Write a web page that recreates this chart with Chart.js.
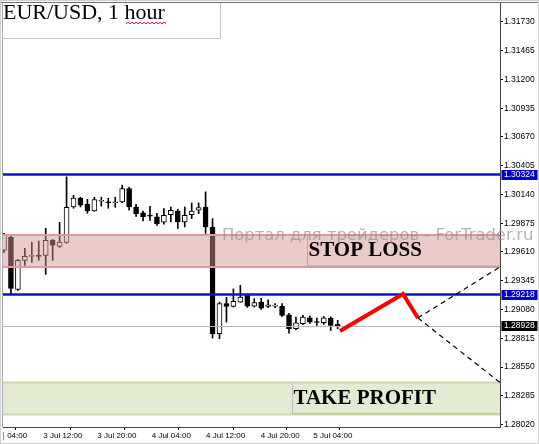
<!DOCTYPE html>
<html>
<head>
<meta charset="utf-8">
<script src="https://cdn.jsdelivr.net/npm/chart.js@4.4.1/dist/chart.umd.min.js"></script>
<style>
  html, body { margin: 0; padding: 0; background: #fff; }
  #wrap { width: 539px; height: 444px; }
</style>
</head>
<body>
<div id="wrap"><canvas id="chart" width="539" height="444"></canvas></div>
<script>
// EUR/USD, H1 candles from 3 Jul 02:00 to 5 Jul 02:00 (one per hour)
const opens = [
  1.29626, 1.29746, 1.29266, 1.29533, 1.29570, 1.29575, 1.29579, 1.29718, 1.29662, 1.29699,
  1.30025, 1.30108, 1.30050, 1.29988, 1.30078, 1.30067, 1.30064, 1.30071, 1.30195, 1.30025,
  1.29970, 1.29945, 1.29933, 1.29884, 1.29955, 1.29988, 1.29887, 1.29955, 1.29995, 1.30025,
  1.29838, 1.28857, 1.29134, 1.29109, 1.29148, 1.29210, 1.29111, 1.29148, 1.29109, 1.29111,
  1.29109, 1.29032, 1.28903, 1.28949, 1.29004, 1.28964, 1.28958, 1.29001, 1.28943
];
const highs = [
  1.29782, 1.29755, 1.29542, 1.29644, 1.29699, 1.29711, 1.29829, 1.29727, 1.29884, 1.30302,
  1.30133, 1.30115, 1.30096, 1.30115, 1.30115, 1.30106, 1.30115, 1.30226, 1.30207, 1.30050,
  1.29986, 1.30032, 1.29967, 1.30010, 1.30025, 1.30004, 1.30025, 1.30062, 1.30062, 1.30164,
  1.29918, 1.29148, 1.29192, 1.29270, 1.29303, 1.29219, 1.29180, 1.29183, 1.29170, 1.29134,
  1.29134, 1.29044, 1.29010, 1.29026, 1.29021, 1.29001, 1.29016, 1.29012, 1.28980
];
const lows = [
  1.29607, 1.29215, 1.29257, 1.29487, 1.29515, 1.29533, 1.29404, 1.29533, 1.29653, 1.29690,
  1.30013, 1.30025, 1.29967, 1.29985, 1.30032, 1.30013, 1.30022, 1.30064, 1.29995, 1.29939,
  1.29896, 1.29902, 1.29856, 1.29866, 1.29887, 1.29826, 1.29841, 1.29918, 1.29964, 1.29780,
  1.28816, 1.28811, 1.28964, 1.29102, 1.29146, 1.29099, 1.29102, 1.29081, 1.29097, 1.29097,
  1.29016, 1.28862, 1.28894, 1.28940, 1.28952, 1.28933, 1.28943, 1.28887, 1.28903
];
const closes = [
  1.29764, 1.29275, 1.29533, 1.29570, 1.29575, 1.29570, 1.29718, 1.29672, 1.29702, 1.30022,
  1.30108, 1.30041, 1.29988, 1.30094, 1.30087, 1.30064, 1.30070, 1.30195, 1.30025, 1.29964,
  1.29933, 1.29940, 1.29872, 1.29949, 1.29995, 1.29887, 1.29949, 1.29988, 1.30020, 1.29841,
  1.28857, 1.29134, 1.29109, 1.29155, 1.29194, 1.29111, 1.29143, 1.29093, 1.29124, 1.29113,
  1.29026, 1.28903, 1.28958, 1.29010, 1.28964, 1.28960, 1.29004, 1.28933, 1.28928
];

const yTicks = [
  1.28020, 1.28285, 1.28550, 1.28815, 1.29080, 1.29345, 1.29610, 1.29875,
  1.30140, 1.30405, 1.30670, 1.30935, 1.31200, 1.31465, 1.31730
];
const xTickPos = [-2.3, 5.65, 13.42, 21.25, 29.06, 36.92, 44.49];
const xTickLabels = ['3 Jul 04:00', '3 Jul 12:00', '3 Jul 20:00', '4 Jul 04:00', '4 Jul 12:00', '4 Jul 20:00', '5 Jul 04:00'];

// levels drawn on the chart
const levelLines = [1.30324, 1.29218];
const lastPrice = 1.28928;
const stopLoss = [1.29472, 1.29767];
const takeProfit = [1.28112, 1.28407];
const stopLabelX = 43.58;
const profitLabelX = 41.5;
// red forecast path and the dashed fan after it
const pathX = [48.33, 57.39, 59.55];
const pathY = [1.28882, 1.29223, 1.29002];
const fanEndX = 71.35;
const fanEndY = [1.29472, 1.28407];

const bodyColors = opens.map((o, i) => closes[i] >= o ? '#ffffff' : '#000000');

function seg(ctx, x1, y1, x2, y2) {
  ctx.beginPath();
  ctx.moveTo(x1, y1);
  ctx.lineTo(x2, y2);
  ctx.stroke();
}

function priceTag(ctx, y, value, bg) {
  ctx.fillStyle = bg;
  ctx.fillRect(501.5, Math.round(y) - 5, 36, 10);
  ctx.fillStyle = '#fff';
  ctx.font = '8.5px "Liberation Sans"';
  ctx.textBaseline = 'middle';
  ctx.textAlign = 'left';
  ctx.fillText(value.toFixed(5), 504, Math.round(y));
}

const overlay = {
  id: 'overlay',
  afterDatasetsDraw(chart) {
    const { ctx, chartArea: a, scales: { x, y } } = chart;
    const w = a.right - a.left;
    ctx.save();
    ctx.beginPath();
    ctx.rect(a.left, a.top, w, a.bottom - a.top);
    ctx.clip();

    // stop loss zone
    const slT = y.getPixelForValue(stopLoss[1]);
    const slB = y.getPixelForValue(stopLoss[0]);
    ctx.fillStyle = 'rgba(216,144,144,0.48)';
    ctx.fillRect(a.left, slT, w, slB - slT);
    ctx.strokeStyle = '#dc9a9a';
    ctx.lineWidth = 2;
    seg(ctx, a.left, slT, a.right, slT);
    seg(ctx, a.left, slB, a.right, slB);
    const slX = Math.round(x.getPixelForValue(stopLabelX)) + 0.5;
    ctx.strokeStyle = '#b9a8a8';
    ctx.lineWidth = 1;
    seg(ctx, slX, slT + 1, slX, slB - 1);
    seg(ctx, slX, slB - 1, a.right, slB - 1);
    ctx.fillStyle = '#000';
    ctx.font = 'bold 21px "Liberation Serif"';
    ctx.textBaseline = 'alphabetic';
    ctx.textAlign = 'left';
    ctx.fillText('STOP LOSS', slX + 1, slT + 21);

    // take profit zone
    const tpT = y.getPixelForValue(takeProfit[1]);
    const tpB = y.getPixelForValue(takeProfit[0]);
    ctx.fillStyle = '#e3ecd3';
    ctx.fillRect(a.left, tpT, w, tpB - tpT);
    ctx.strokeStyle = '#c6dba9';
    ctx.lineWidth = 2;
    seg(ctx, a.left, tpT, a.right, tpT);
    seg(ctx, a.left, tpB, a.right, tpB);
    const tpX = Math.round(x.getPixelForValue(profitLabelX)) + 0.5;
    ctx.strokeStyle = '#bcbcbc';
    ctx.lineWidth = 1;
    seg(ctx, tpX, tpT + 1, tpX, tpB - 1);
    seg(ctx, tpX, tpB - 1, a.right, tpB - 1);
    ctx.fillStyle = '#000';
    ctx.font = 'bold 21px "Liberation Serif"';
    ctx.fillText('TAKE PROFIT', tpX + 1, tpT + 21);

    // last price line
    const lp = Math.round(y.getPixelForValue(lastPrice)) + 0.5;
    ctx.strokeStyle = '#b8b8b8';
    ctx.lineWidth = 1;
    seg(ctx, a.left, lp, a.right, lp);

    // blue levels
    ctx.strokeStyle = '#0a14c8';
    ctx.lineWidth = 2.5;
    levelLines.forEach(v => {
      const py = y.getPixelForValue(v);
      seg(ctx, a.left, py, a.right, py);
    });

    // red path
    ctx.strokeStyle = '#ff0000';
    ctx.lineWidth = 4;
    ctx.lineJoin = 'miter';
    ctx.beginPath();
    pathX.forEach((v, i) => {
      const px = x.getPixelForValue(v), py = y.getPixelForValue(pathY[i]);
      if (i === 0) ctx.moveTo(px, py); else ctx.lineTo(px, py);
    });
    ctx.stroke();

    // dashed fan
    const sx = x.getPixelForValue(pathX[pathX.length - 1]);
    const sy = y.getPixelForValue(pathY[pathY.length - 1]);
    ctx.strokeStyle = '#000';
    ctx.lineWidth = 1.2;
    ctx.setLineDash([5, 4]);
    fanEndY.forEach(v => seg(ctx, sx, sy, x.getPixelForValue(fanEndX), y.getPixelForValue(v)));
    ctx.setLineDash([]);
    ctx.restore();
  },
  afterDraw(chart) {
    const { ctx, chartArea: a, scales: { y } } = chart;
    ctx.save();

    // hide the cut part of the first time label
    ctx.fillStyle = '#fff';
    ctx.fillRect(0, a.bottom + 2, 7, 17);
    ctx.strokeStyle = '#888';
    ctx.lineWidth = 1;
    seg(ctx, 3.5, 432, 3.5, 440);

    // frame
    ctx.strokeStyle = '#6e6e6e';
    seg(ctx, 0, 2.5, 539, 2.5);
    ctx.strokeStyle = '#a8a8a8';
    seg(ctx, 2.5, 2.5, 2.5, a.bottom);
    ctx.strokeStyle = '#cfcfcf';
    ctx.strokeRect(0.5, 0.5, 538, 443);

    // watermark
    ctx.fillStyle = 'rgba(140,140,140,0.65)';
    ctx.font = '16.4px "DejaVu Sans"';
    ctx.textBaseline = 'alphabetic';
    ctx.textAlign = 'left';
    ctx.fillText('Портал для трейдеров - ForTrader.ru', 222, 240);

    // price tags on the axis
    levelLines.forEach(v => priceTag(ctx, y.getPixelForValue(v), v, '#0000c8'));
    priceTag(ctx, y.getPixelForValue(lastPrice), lastPrice, '#000');

    // title box
    ctx.fillStyle = '#fff';
    ctx.fillRect(3, 3, 217, 35);
    ctx.strokeStyle = '#c4c4c4';
    ctx.lineWidth = 1;
    seg(ctx, 220.5, 3, 220.5, 38.5);
    seg(ctx, 3, 38.5, 220.5, 38.5);
    ctx.fillStyle = '#000';
    ctx.font = '22px "Liberation Serif"';
    ctx.textBaseline = 'alphabetic';
    ctx.fillText('EUR/USD, 1 hour', 3, 19);
    ctx.strokeStyle = '#e02828';
    ctx.beginPath();
    for (let px = 126; px <= 166; px += 2) {
      const py = 23 + (((px - 126) / 2) % 2 ? -1 : 1);
      if (px === 126) ctx.moveTo(px, py); else ctx.lineTo(px, py);
    }
    ctx.stroke();
    ctx.restore();
  }
};

new Chart(document.getElementById('chart'), {
  type: 'bar',
  data: {
    datasets: [
      {
        label: 'body',
        data: opens.map((o, i) => ({ x: i, y: [o, closes[i]] })),
        backgroundColor: bodyColors,
        borderColor: '#000',
        borderWidth: 1,
        borderSkipped: false,
        barThickness: 5,
        minBarLength: 1,
        grouped: false
      },
      {
        label: 'wick',
        data: lows.map((l, i) => ({ x: i, y: [l, highs[i]] })),
        backgroundColor: '#000',
        barThickness: 1,
        grouped: false
      }
    ]
  },
  options: {
    responsive: false,
    animation: false,
    devicePixelRatio: 1,
    layout: { padding: { left: 3, top: 3, right: 0, bottom: 0 } },
    plugins: { legend: { display: false }, tooltip: { enabled: false } },
    scales: {
      x: {
        type: 'linear',
        min: -0.144,
        max: 71.35,
        offset: false,
        grid: { drawOnChartArea: false, tickLength: 3, color: '#000' },
        border: { color: '#444' },
        ticks: {
          font: { family: 'Liberation Sans', size: 8 },
          color: '#000',
          padding: 1,
          align: 'start',
          autoSkip: false,
          maxRotation: 0,
          callback: (v, i) => xTickLabels[i]
        },
        afterBuildTicks: s => { s.ticks = xTickPos.map(v => ({ value: v })); },
        afterFit: s => { s.height = 17; s.paddingLeft = 0; s.paddingRight = 0; }
      },
      y: {
        position: 'right',
        min: 1.27997,
        max: 1.31905,
        grid: { drawOnChartArea: false, tickLength: 3, color: '#000' },
        border: { color: '#444' },
        ticks: {
          font: { family: 'Liberation Sans', size: 8.5 },
          color: '#000',
          padding: 1,
          autoSkip: false,
          callback: v => v.toFixed(5)
        },
        afterBuildTicks: s => { s.ticks = yTicks.map(v => ({ value: v })); },
        afterFit: s => { s.width = 39; s.paddingTop = 0; s.paddingBottom = 0; }
      }
    }
  },
  plugins: [overlay]
});
</script>
</body>
</html>
